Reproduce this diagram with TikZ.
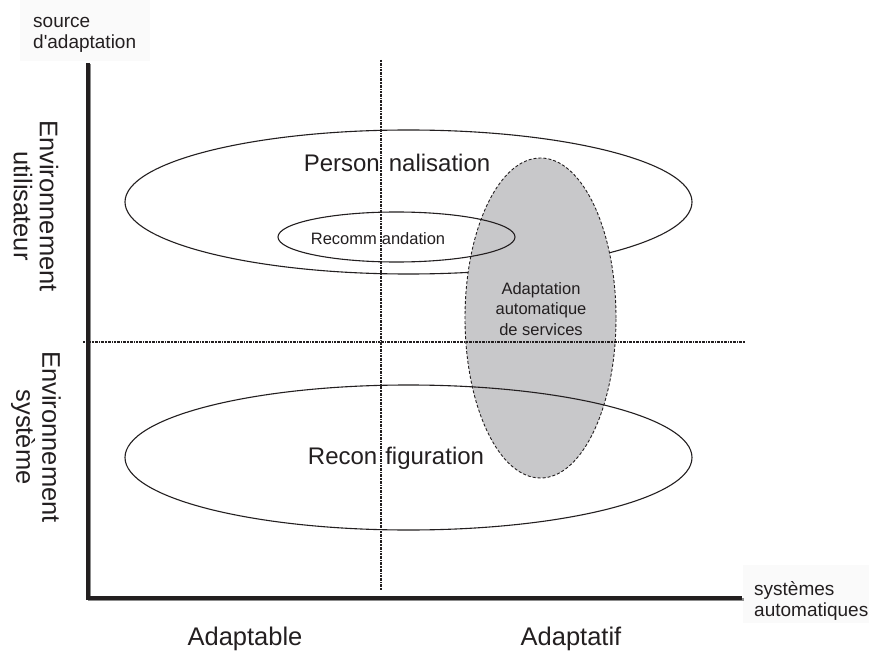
\documentclass[tikz,border=0pt]{standalone}
\usepackage{fontspec}
\setmainfont{Liberation Sans}[Ligatures=TeXOff]
\usetikzlibrary{shapes.geometric}
\definecolor{ink}{RGB}{35,31,32}
\definecolor{greyfill}{RGB}{200,200,202}
\begin{document}
\begin{tikzpicture}[x=1pt,y=-1pt,
  txt/.style={text=ink, inner sep=0pt, align=center},
  big/.style={txt, font=\fontsize{24}{26}\selectfont},
  mid/.style={txt, font=\fontsize{16.5}{20.5}\selectfont},
  small/.style={txt, font=\fontsize{19}{21}\selectfont},
  side/.style={txt, font=\fontsize{25.5}{26}\selectfont, rotate=-90},
  oval/.style={ellipse, draw=ink, line width=1.1pt, inner sep=0pt},
  dotline/.style={draw=ink, line width=1.2pt, dash pattern=on 2pt off 0.8pt on 0.8pt off 0.8pt},
  axis/.style={draw=ink, line width=3.2pt}]
\useasboundingbox (0,0) rectangle (869,652);
\fill[white] (0,0) rectangle (869,652);
\fill[black!2] (20,0) rectangle (150,61);
\fill[black!2] (743,565) rectangle (869,623);
% ellipses
\node[oval, minimum width=567pt, minimum height=144pt] (perso) at (408.5,202) {};
\node[ellipse, draw=ink, fill=greyfill, line width=0.9pt, dash pattern=on 3pt off 2pt, minimum width=151pt, minimum height=320pt, inner sep=0pt] (auto) at (540.5,318) {};
\node[oval, minimum width=237pt, minimum height=50pt] (recom) at (396.5,237) {};
\node[oval, minimum width=567pt, minimum height=145pt] (reconf) at (408.5,457.5) {};
% axes
\coordinate (top) at (88,63);
\coordinate (orig) at (88,598);
\coordinate (right) at (742,598);
\draw[black!45, line width=3pt] ([shift={(1.5,1.5)}]top) -- ([shift={(1.5,1.5)}]orig) -- ([shift={(1.5,1.5)}]right);
\draw[axis] (top) -- (orig) -- (right);
% dotted lines
\coordinate (vt) at (381,60);
\coordinate (vb) at (381,590);
\coordinate (hl) at (83,342);
\coordinate (hr) at (745,342);
\draw[dotline] (vt) -- (vb);
\draw[dotline] (hl) -- (hr);
% labels
\node[big] (tperso) at (397,163) {Person\hspace{9pt}nalisation};
\node[mid] (trecom) at (378,239) {Recomm\hspace{5pt}andation};
\node[big] (treconf) at (396,458) {Recon\hspace{8pt}figuration};
\node[mid] (tauto) at (541,309) {Adaptation\\automatique\\de services};
\node[small, align=left, anchor=north west] (tsrc) at (33,17) {source\\d'adaptation};
\node[small, align=left, anchor=north west] (tsys) at (754,581) {systèmes\\automatiques};
\node[side] (tuser) at (36,206) {Environnement\\utilisateur};
\node[side] (tsyst) at (36,437) {Environnement\\système};
\node[txt, font=\fontsize{25.5}{26}\selectfont] (tadable) at (245,639) {Adaptable};
\node[txt, font=\fontsize{25.5}{26}\selectfont] (tatif) at (571,639) {Adaptatif};
\end{tikzpicture}
\end{document}
